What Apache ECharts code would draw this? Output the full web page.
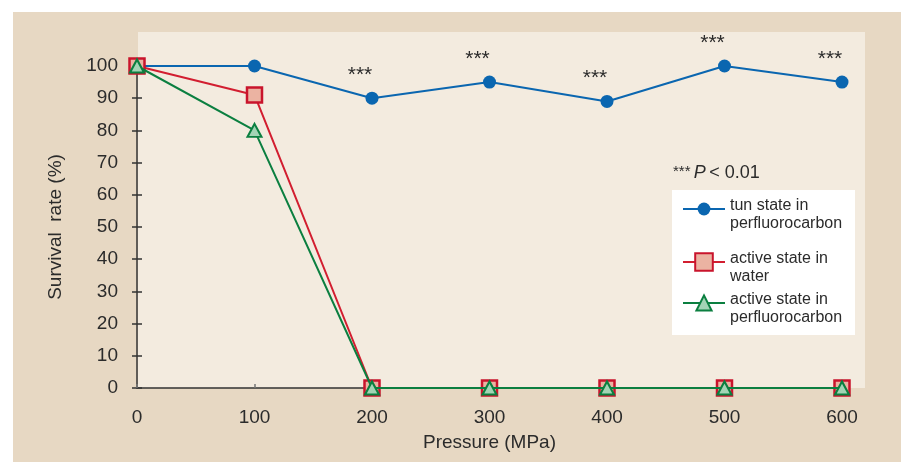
<!DOCTYPE html>
<html>
<head>
<meta charset="utf-8">
<script src="https://cdn.jsdelivr.net/npm/echarts@6/dist/echarts.min.js"></script>
<style>
html,body{margin:0;padding:0;background:#fff;}
#chart{width:901px;height:462px;}
</style>
</head>
<body>
<div id="chart"></div>
<script>
// ---- data ----
const pressures = [0, 100, 200, 300, 400, 500, 600];
const tunPFC = [100, 100, 90, 95, 89, 100, 95];
const activeWater = [100, 91, 0, 0, 0, 0, 0];
const activePFC = [100, 80, 0, 0, 0, 0, 0];
const significance = ['', '', '***', '***', '***', '***', '***'];
const seriesNames = ['tun state in\nperfluorocarbon', 'active state in\nwater', 'active state in\nperfluorocarbon'];
const xTicks = [0, 100, 200, 300, 400, 500, 600];
const yTicks = [0, 10, 20, 30, 40, 50, 60, 70, 80, 90, 100];

const FONT = "'Liberation Sans', Arial, Helvetica, sans-serif";
const TXT = '#2b2b2b';

const pair = arr => pressures.map((p, i) => [p, arr[i]]);

const chart = echarts.init(document.getElementById('chart'), null, {renderer: 'canvas'});

const legendBase = {
  orient: 'vertical',
  left: 682,
  padding: 0,
  itemWidth: 42,
  itemGap: 0,
  selectedMode: false,
  formatter: name => '{g| }\n' + name.split('\n').map(s => '{t|' + s + '}').join('\n'),
  textStyle: {
    fontFamily: FONT, fontSize: 16, color: TXT,
    rich: {
      g: {fontSize: 8, lineHeight: 12},
      t: {fontFamily: FONT, fontSize: 16, lineHeight: 18, color: TXT}
    }
  }
};

chart.setOption({
  animation: false,
  textStyle: {fontFamily: FONT},
  graphic: [
    {type: 'rect', z: -20, shape: {x: 13, y: 12, width: 888, height: 450}, style: {fill: '#e7d8c3'}},
    {type: 'rect', z: -19, shape: {x: 138, y: 32, width: 727, height: 356}, style: {fill: '#f3ebdf'}},
    {type: 'rect', z: -18, shape: {x: 672, y: 190, width: 183, height: 145}, style: {fill: '#ffffff'}},
    {type: 'text', left: 673, top: 164, z: 10, style: {
      text: '{s|***} {p|P} {n|< 0.01}',
      rich: {
        s: {fontFamily: FONT, fontSize: 15, fill: TXT, verticalAlign: 'top'},
        p: {fontFamily: FONT, fontSize: 18, fontStyle: 'italic', fill: TXT},
        n: {fontFamily: FONT, fontSize: 18, fill: TXT}
      }
    }}
  ],
  grid: {left: 137, right: 59, top: 66, bottom: 74, containLabel: false},
  xAxis: {
    type: 'value', min: xTicks[0], max: xTicks[xTicks.length - 1], interval: xTicks[1] - xTicks[0],
    name: 'Pressure (MPa)', nameLocation: 'middle', nameGap: 45,
    nameTextStyle: {fontFamily: FONT, fontSize: 19, color: TXT},
    axisLine: {lineStyle: {color: '#333', width: 1.5}},
    axisTick: {inside: true, length: 4, lineStyle: {color: '#777', width: 1.5}},
    axisLabel: {fontFamily: FONT, fontSize: 19, color: TXT, margin: 20},
    splitLine: {show: false}
  },
  yAxis: [{
    type: 'value', min: yTicks[0], max: yTicks[yTicks.length - 1], interval: yTicks[1] - yTicks[0],
    name: 'Survival  rate (%)', nameLocation: 'middle', nameGap: 72,
    nameTextStyle: {fontFamily: FONT, fontSize: 19, color: TXT},
    axisLine: {show: true, lineStyle: {color: '#333', width: 1.5}},
    axisTick: {show: true, length: 5, lineStyle: {color: '#333', width: 1.5}},
    axisLabel: {fontFamily: FONT, fontSize: 19, color: TXT, margin: 19},
    splitLine: {show: false}
  }, {
    type: 'value', position: 'left', min: yTicks[0], max: yTicks[yTicks.length - 1], interval: yTicks[1] - yTicks[0],
    axisLine: {show: false},
    axisTick: {show: true, inside: true, length: 5, lineStyle: {color: '#333', width: 1.5}},
    axisLabel: {show: false},
    splitLine: {show: false}
  }],
  legend: [
    Object.assign({}, legendBase, {top: 187, data: [seriesNames[0]], itemHeight: 16}),
    Object.assign({}, legendBase, {top: 240, data: [seriesNames[1]], itemHeight: 22}),
    Object.assign({}, legendBase, {top: 281, data: [seriesNames[2]], itemHeight: 19})
  ],
  series: [
    {
      name: seriesNames[0], type: 'line', data: pair(tunPFC),
      symbol: 'circle', symbolSize: 13,
      lineStyle: {color: '#0a66b0', width: 2},
      itemStyle: {color: '#0a66b0'},
      label: {
        show: true, position: 'top', distance: 5, offset: [-12, -1],
        formatter: p => significance[p.dataIndex],
        fontFamily: FONT, fontSize: 21, color: TXT
      },
      z: 2
    },
    {
      name: seriesNames[1], type: 'line', data: pair(activeWater),
      symbol: 'rect', symbolSize: 15,
      lineStyle: {color: '#d21e30', width: 2},
      itemStyle: {color: '#ebb3a2', borderColor: '#c9142c', borderWidth: 2.5},
      z: 3
    },
    {
      name: seriesNames[2], type: 'line', data: pair(activePFC),
      symbol: 'triangle', symbolSize: [14, 13],
      lineStyle: {color: '#0b7f40', width: 2},
      itemStyle: {color: '#a3d4b5', borderColor: '#0b7f40', borderWidth: 2},
      z: 4
    }
  ]
});
</script>
</body>
</html>
